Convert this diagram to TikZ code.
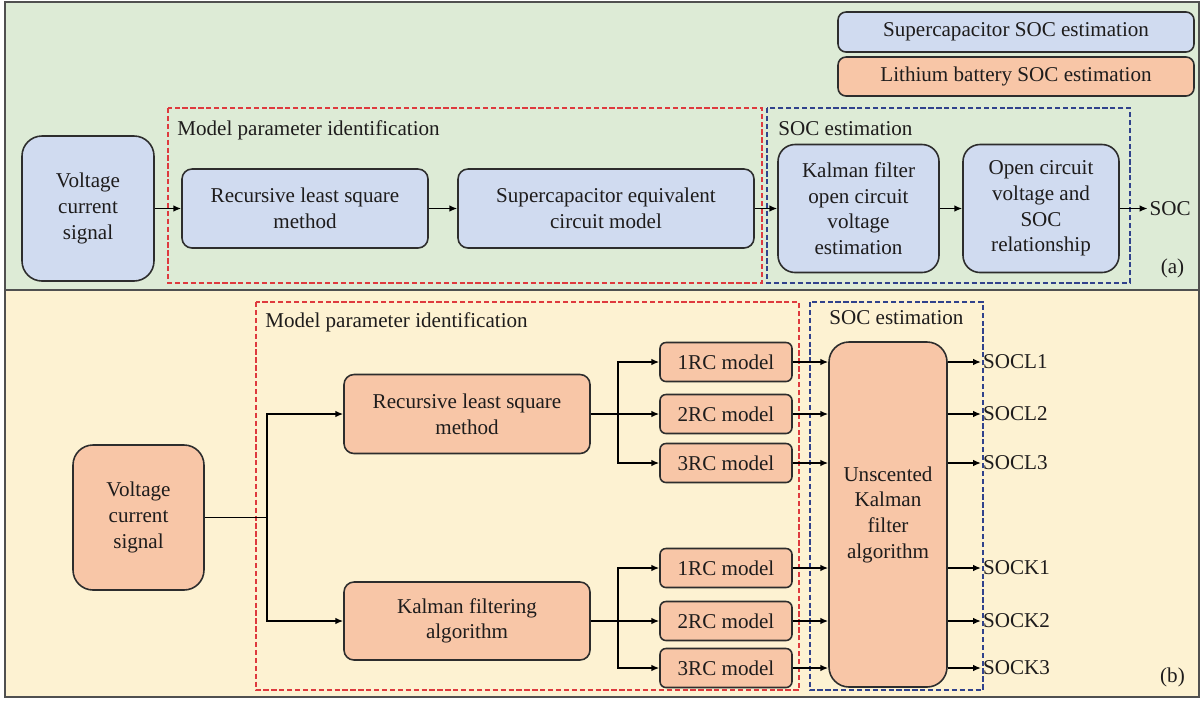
\documentclass[tikz,border=0pt]{standalone}
\usepackage{fontspec}
\setmainfont{Liberation Serif}
\usepackage{tikz}
\usetikzlibrary{arrows.meta}

\definecolor{bgcap}{RGB}{221,235,214}
\definecolor{bgbat}{RGB}{253,242,210}
\definecolor{capfill}{RGB}{208,219,240}
\definecolor{batfill}{RGB}{248,198,167}
\definecolor{boxline}{RGB}{45,45,45}
\definecolor{frameline}{RGB}{80,80,80}
\definecolor{dashred}{RGB}{222,58,62}
\definecolor{dashblue}{RGB}{48,66,140}
\definecolor{ink}{RGB}{30,28,28}

\begin{document}
\begin{tikzpicture}[
	font=\fontsize{12}{14.6}\selectfont, text=ink,
	box/.style={draw=boxline, line width=0.9pt, align=center, inner sep=2pt},
	capbox/.style={box, fill=capfill},
	batbox/.style={box, fill=batfill},
	wire/.style={line width=1.1pt},
	link/.style={wire, -{Latex[length=4.5pt,width=3.8pt]}},
	thinlink/.style={link, line width=0.8pt},
	partred/.style={draw=dashred, line width=0.9pt, dash pattern=on 3pt off 1.5pt},
	partblue/.style={draw=dashblue, line width=0.9pt, dash pattern=on 3pt off 1.5pt},
	outlabel/.style={anchor=west, inner sep=1pt}
	]
	
	\useasboundingbox (0,0) rectangle (24.08,-14.02);
	
	% Fill panels
	\fill[bgcap] (0.1,-0.04) rectangle (23.98,-5.8);
	\fill[bgbat] (0.1,-5.8) rectangle (23.98,-13.94);
	\draw[frameline, line width=1pt] (0.1,-0.04) rectangle (23.98,-13.94) (0.1,-5.8) -- (23.98,-5.8);
	
	% Legend
	\node[capbox, rounded corners=0.16cm, minimum width=7.12cm, minimum height=0.8cm] (legcap) at (20.32,-0.64) {Supercapacitor SOC estimation};
	\node[batbox, rounded corners=0.16cm, minimum width=7.12cm, minimum height=0.78cm] (legbat) at (20.32,-1.53) {Lithium battery SOC estimation};
	
	% Draw part boundaries (a)
	\draw[partred] (3.36,-2.16) rectangle (15.24,-5.66);
	\draw[partblue] (15.34,-2.16) rectangle (22.6,-5.66);
	\node[anchor=west, inner sep=0pt] (mpia) at (3.54,-2.6) {Model parameter identification};
	\node[anchor=west, inner sep=0pt] (soca) at (15.56,-2.58) {SOC estimation};
	
	% Supercapacitor chain (a)
	\node[capbox, rounded corners=0.4cm, minimum width=2.64cm, minimum height=2.9cm] (vcsa) at (1.76,-4.17) {Voltage\\current\\signal};
	\node[capbox, rounded corners=0.2cm, minimum width=4.92cm, minimum height=1.58cm] (rlsa) at (6.1,-4.17) {Recursive least square\\method};
	\node[capbox, rounded corners=0.2cm, minimum width=5.92cm, minimum height=1.58cm] (eqc) at (12.12,-4.17) {Supercapacitor equivalent\\circuit model};
	\node[capbox, rounded corners=0.34cm, minimum width=3.22cm, minimum height=2.56cm] (kfa) at (17.17,-4.17) {Kalman filter\\open circuit\\voltage\\estimation};
	\node[capbox, rounded corners=0.34cm, minimum width=3.12cm, minimum height=2.56cm] (ocv) at (20.82,-4.17) {Open circuit\\voltage and\\SOC\\relationship};
	\node[outlabel] (soc) at (22.95,-4.17) {SOC};
	
	\draw[thinlink] (vcsa) -- (rlsa);
	\draw[thinlink] (rlsa) -- (eqc);
	\draw[thinlink] (eqc) -- (kfa);
	\draw[thinlink] (kfa) -- (ocv);
	\draw[thinlink] (ocv) -- (soc);
	
	\node (taga) at (23.45,-5.36) {(a)};
	
	% Draw part boundaries (b)
	\draw[partred] (5.12,-6.04) rectangle (15.98,-13.8);
	\draw[partblue] (16.2,-6.04) rectangle (19.66,-13.8);
	\node[anchor=west, inner sep=0pt] (mpib) at (5.3,-6.44) {Model parameter identification};
	\node[anchor=west, inner sep=0pt] (socb) at (16.58,-6.36) {SOC estimation};
	
	% Lithium battery chain (b)
	\node[batbox, rounded corners=0.4cm, minimum width=2.62cm, minimum height=2.9cm] (vcsb) at (2.77,-10.35) {Voltage\\current\\signal};
	\node[batbox, rounded corners=0.2cm, minimum width=4.92cm, minimum height=1.58cm] (rlsb) at (9.34,-8.28) {Recursive least square\\method};
	\node[batbox, rounded corners=0.2cm, minimum width=4.92cm, minimum height=1.56cm] (kfab) at (9.34,-12.42) {Kalman filtering\\algorithm};
	\node[batbox, rounded corners=0.4cm, minimum width=2.36cm, minimum height=6.9cm] (ukf) at (17.76,-10.29) {Unscented\\Kalman\\filter\\algorithm};
	
	% RC models
	\foreach \n/\y in {1/-7.24, 2/-8.28, 3/-9.26} {
		\node[batbox, rounded corners=0.12cm, minimum width=2.64cm, minimum height=0.78cm] (rcl\n) at (14.52,\y) {\n RC model};
	}
	\foreach \n/\y in {1/-11.36, 2/-12.42, 3/-13.36} {
		\node[batbox, rounded corners=0.12cm, minimum width=2.64cm, minimum height=0.78cm] (rck\n) at (14.52,\y) {\n RC model};
	}
	
	% Branching connectors
	\coordinate (split) at (5.34,-10.35);
	\coordinate (splitl) at (12.36,-8.28);
	\coordinate (splitk) at (12.36,-12.42);
	\draw[wire] (vcsb.east) -- (split);
	\draw[link] (split) |- (rlsb.west);
	\draw[link] (split) |- (kfab.west);
	\draw[wire] (rlsb.east) -- (splitl);
	\draw[wire] (kfab.east) -- (splitk);
	\foreach \n in {1,2,3} {
		\draw[link] (splitl) |- (rcl\n.west);
		\draw[link] (splitk) |- (rck\n.west);
		\draw[link] (rcl\n.east) -- (rcl\n.east -| ukf.west);
		\draw[link] (rck\n.east) -- (rck\n.east -| ukf.west);
	}
	
	% Outputs
	\foreach \n/\y in {1/-7.24, 2/-8.28, 3/-9.26} {
		\node[outlabel] (socl\n) at (19.62,\y) {SOCL\n};
		\draw[link] (ukf.east |- socl\n.west) -- (socl\n.west);
	}
	\foreach \n/\y in {1/-11.36, 2/-12.42, 3/-13.36} {
		\node[outlabel] (sock\n) at (19.62,\y) {SOCK\n};
		\draw[link] (ukf.east |- sock\n.west) -- (sock\n.west);
	}
	
	\node (tagb) at (23.45,-13.54) {(b)};
	
\end{tikzpicture}
\end{document}
